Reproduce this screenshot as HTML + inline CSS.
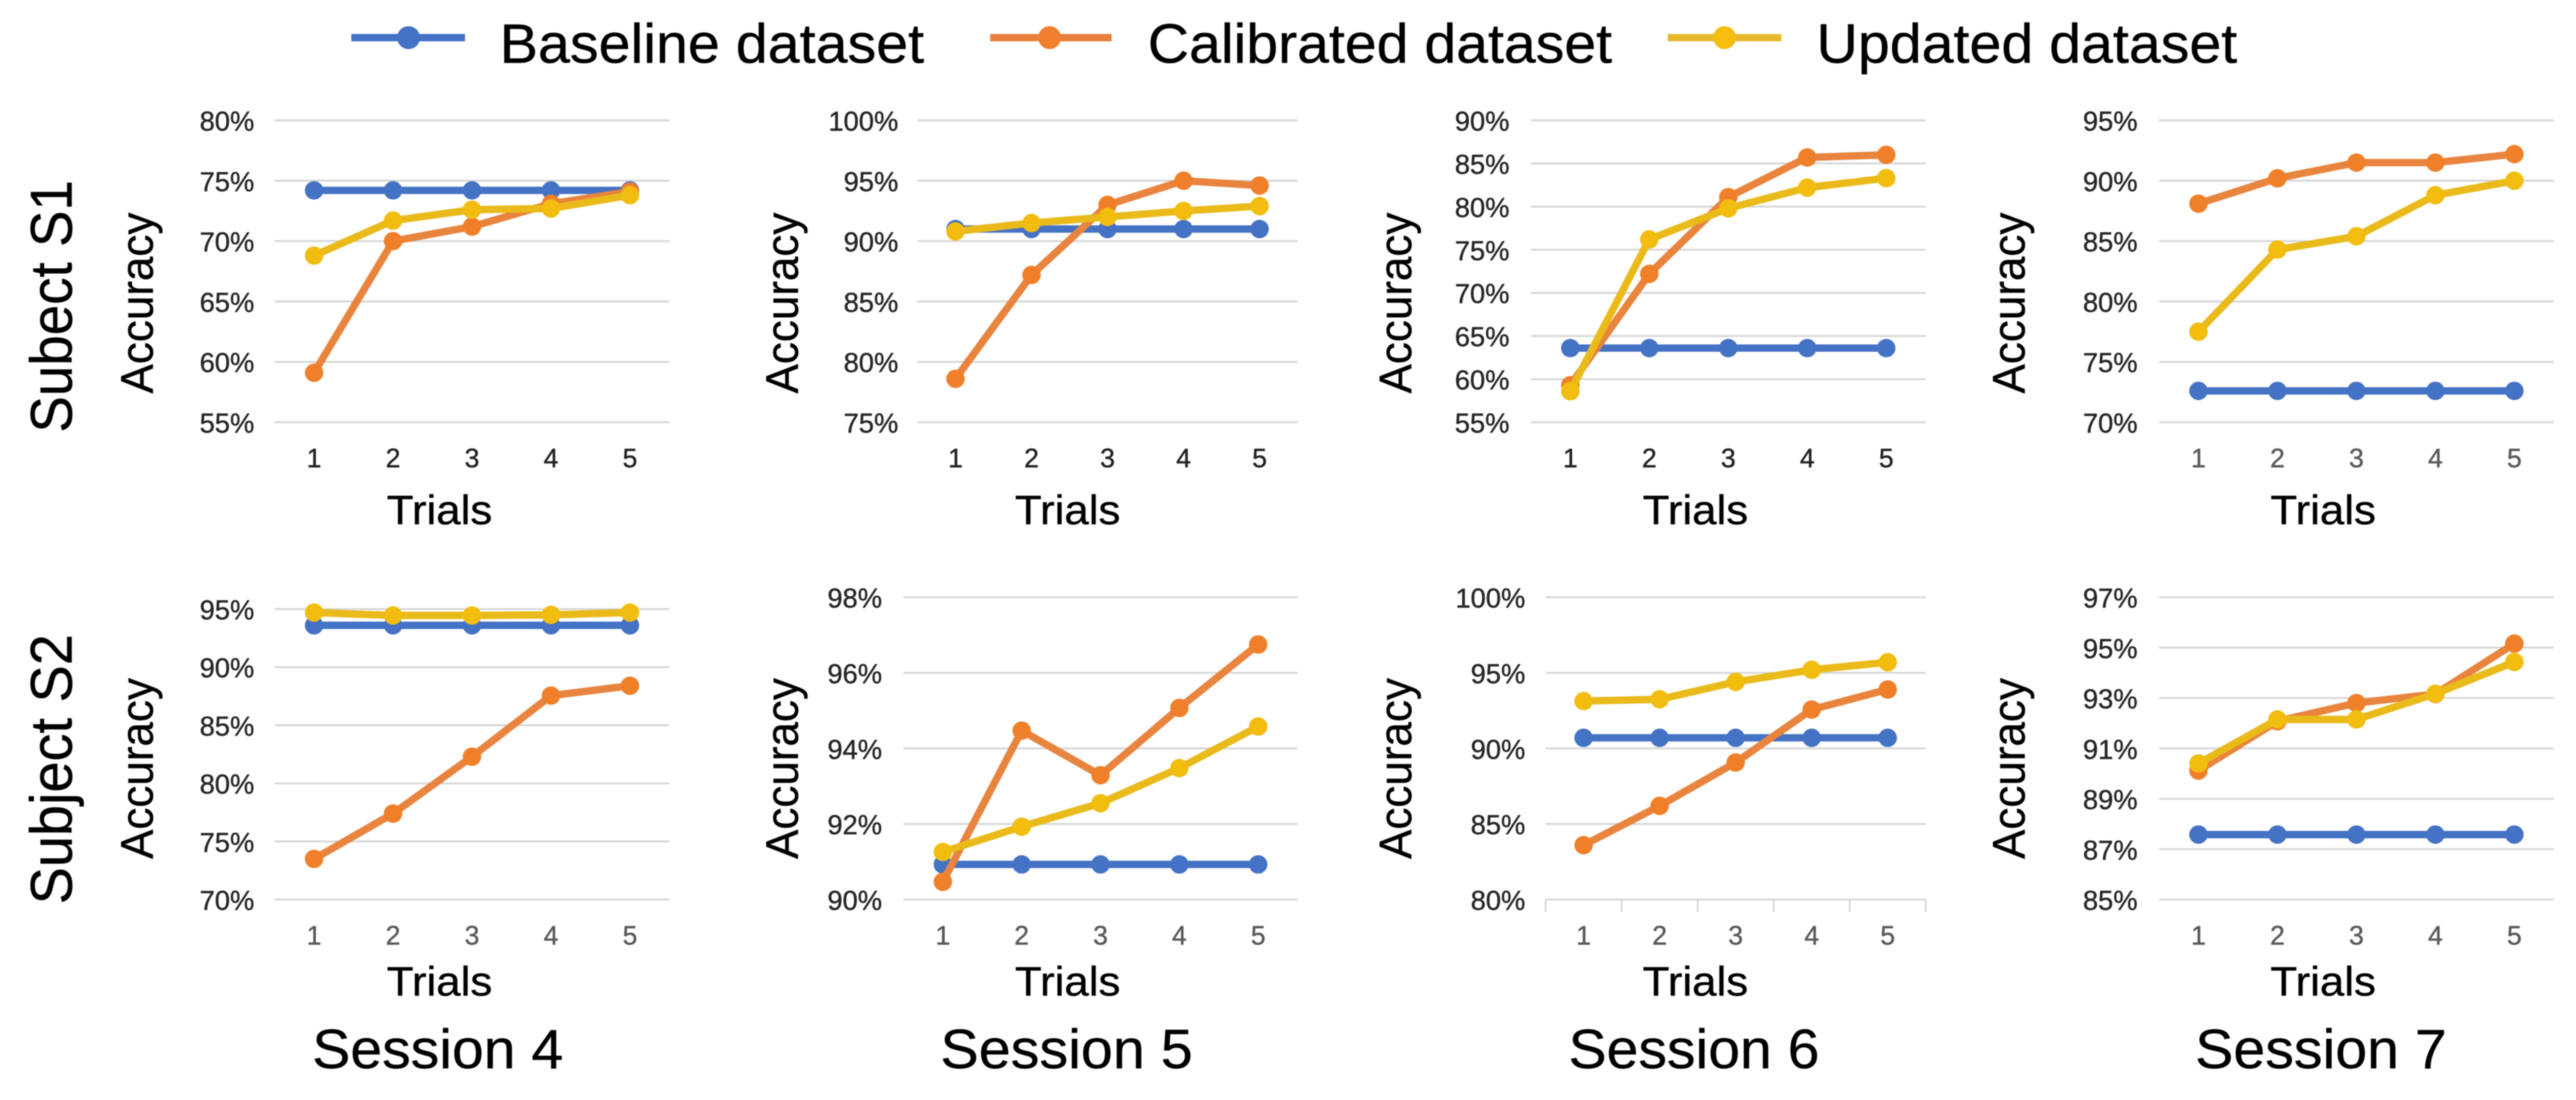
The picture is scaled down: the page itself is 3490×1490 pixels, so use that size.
<!DOCTYPE html>
<html lang="en">
<head>
<meta charset="utf-8">
<title>Accuracy by trial, session and subject</title>
<style>
  html, body { margin: 0; padding: 0; background: #fff; }
  svg { display: block; font-family: "Liberation Sans", Arial, sans-serif; filter: blur(0.7px); }
  text { stroke: currentColor; stroke-width: 0.5px; }
</style>
</head>
<body>
<svg id="chart" xmlns="http://www.w3.org/2000/svg" width="3490" height="1490" viewBox="0 0 3490 1490">
  <rect width="3490" height="1490" fill="#ffffff"/>

  <g>
    <g>
      <line x1="476" y1="51" x2="630" y2="51" stroke="#4472C4" stroke-width="10"/>
      <circle cx="553.5" cy="51" r="15.5" fill="#4472C4"/>
      <text x="677" y="85" font-size="75" textLength="575" lengthAdjust="spacingAndGlyphs" fill="#000" color="#000">Baseline dataset</text>
    </g>
    <g>
      <line x1="1341.5" y1="51" x2="1506" y2="51" stroke="#E8803C" stroke-width="10"/>
      <circle cx="1422" cy="51" r="15.5" fill="#F08030"/>
      <text x="1555" y="85" font-size="75" textLength="629" lengthAdjust="spacingAndGlyphs" fill="#000" color="#000">Calibrated dataset</text>
    </g>
    <g>
      <line x1="2259.5" y1="51" x2="2413.5" y2="51" stroke="#E7B82E" stroke-width="10"/>
      <circle cx="2336.5" cy="51" r="15.5" fill="#F5BE10"/>
      <text x="2461" y="85" font-size="75" textLength="570" lengthAdjust="spacingAndGlyphs" fill="#000" color="#000">Updated dataset</text>
    </g>
  </g>

  <text transform="translate(97,586) rotate(-90)" font-size="80" textLength="342" lengthAdjust="spacingAndGlyphs" fill="#000" color="#000">Subect S1</text>
  <text transform="translate(97,1225) rotate(-90)" font-size="80" textLength="366" lengthAdjust="spacingAndGlyphs" fill="#000" color="#000">Subject S2</text>

  <text x="423" y="1447" font-size="75" textLength="340" lengthAdjust="spacingAndGlyphs" fill="#000" color="#000">Session 4</text>
  <text x="1274" y="1447" font-size="75" textLength="342" lengthAdjust="spacingAndGlyphs" fill="#000" color="#000">Session 5</text>
  <text x="2125" y="1447" font-size="75" textLength="340" lengthAdjust="spacingAndGlyphs" fill="#000" color="#000">Session 6</text>
  <text x="2974" y="1447" font-size="75" textLength="341" lengthAdjust="spacingAndGlyphs" fill="#000" color="#000">Session 7</text>
</svg>

<script>
// ---- Data (percent accuracy) ----
const trials = [1, 2, 3, 4, 5];

const s1Session4Ticks = [55, 60, 65, 70, 75, 80];
const s1Session4Baseline = [74.2, 74.2, 74.2, 74.2, 74.2];
const s1Session4Calibrated = [59.1, 70.0, 71.2, 73.1, 74.1];
const s1Session4Updated = [68.8, 71.7, 72.6, 72.7, 73.8];

const s1Session5Ticks = [75, 80, 85, 90, 95, 100];
const s1Session5Baseline = [91.0, 91.0, 91.0, 91.0, 91.0];
const s1Session5Calibrated = [78.6, 87.2, 93.0, 95.0, 94.6];
const s1Session5Updated = [90.8, 91.5, 92.0, 92.5, 92.9];

const s1Session6Ticks = [55, 60, 65, 70, 75, 80, 85, 90];
const s1Session6Baseline = [63.6, 63.6, 63.6, 63.6, 63.6];
const s1Session6Calibrated = [59.3, 72.2, 81.1, 85.7, 86.0];
const s1Session6Updated = [58.6, 76.2, 79.8, 82.2, 83.3];

const s1Session7Ticks = [70, 75, 80, 85, 90, 95];
const s1Session7Baseline = [72.6, 72.6, 72.6, 72.6, 72.6];
const s1Session7Calibrated = [88.1, 90.2, 91.5, 91.5, 92.2];
const s1Session7Updated = [77.5, 84.3, 85.4, 88.8, 90.0];

const s2Session4Ticks = [70, 75, 80, 85, 90, 95];
const s2Session4Baseline = [93.6, 93.6, 93.6, 93.6, 93.6];
const s2Session4Calibrated = [73.5, 77.4, 82.3, 87.55, 88.4];
const s2Session4Updated = [94.7, 94.45, 94.45, 94.5, 94.7];

const s2Session5Ticks = [90, 92, 94, 96, 98];
const s2Session5Baseline = [90.93, 90.93, 90.93, 90.93, 90.93];
const s2Session5Calibrated = [90.47, 94.47, 93.29, 95.07, 96.75];
const s2Session5Updated = [91.26, 91.93, 92.55, 93.48, 94.58];

const s2Session6Ticks = [80, 85, 90, 95, 100];
const s2Session6Baseline = [90.7, 90.7, 90.7, 90.7, 90.7];
const s2Session6Calibrated = [83.6, 86.2, 89.07, 92.57, 93.9];
const s2Session6Updated = [93.13, 93.25, 94.4, 95.2, 95.7];

const s2Session7Ticks = [85, 87, 89, 91, 93, 95, 97];
const s2Session7Baseline = [87.58, 87.58, 87.58, 87.58, 87.58];
const s2Session7Calibrated = [90.12, 92.08, 92.8, 93.16, 95.16];
const s2Session7Updated = [90.4, 92.15, 92.15, 93.17, 94.43];

// ---- Layout of each panel ----
const panels = [
  { id: 's1-session-4', ticks: s1Session4Ticks, base: s1Session4Baseline, cal: s1Session4Calibrated, upd: s1Session4Updated,
    left: 372, right: 907, top: 163, bottom: 572, labelRight: 344.5, accX: 207, trialsX: 595.5, titleDrop: 138, catColor: '#222222', axis: false },
  { id: 's1-session-5', ticks: s1Session5Ticks, base: s1Session5Baseline, cal: s1Session5Calibrated, upd: s1Session5Updated,
    left: 1243, right: 1758, top: 163, bottom: 572, labelRight: 1217, accX: 1081, trialsX: 1446.5, titleDrop: 138, catColor: '#222222', axis: false },
  { id: 's1-session-6', ticks: s1Session6Ticks, base: s1Session6Baseline, cal: s1Session6Calibrated, upd: s1Session6Updated,
    left: 2074, right: 2609, top: 163, bottom: 572, labelRight: 2045, accX: 1912, trialsX: 2297, titleDrop: 138, catColor: '#222222', axis: false },
  { id: 's1-session-7', ticks: s1Session7Ticks, base: s1Session7Baseline, cal: s1Session7Calibrated, upd: s1Session7Updated,
    left: 2925, right: 3460, top: 163, bottom: 572, labelRight: 2896, accX: 2743, trialsX: 3147.5, titleDrop: 138, catColor: '#595959', axis: false },
  { id: 's2-session-4', ticks: s2Session4Ticks, base: s2Session4Baseline, cal: s2Session4Calibrated, upd: s2Session4Updated,
    left: 372, right: 907, top: 825, bottom: 1218.5, labelRight: 344.5, accX: 207, trialsX: 595.5, titleDrop: 130, catColor: '#595959', axis: false },
  { id: 's2-session-5', ticks: s2Session5Ticks, base: s2Session5Baseline, cal: s2Session5Calibrated, upd: s2Session5Updated,
    left: 1224, right: 1758, top: 809, bottom: 1218.5, labelRight: 1195, accX: 1081, trialsX: 1446.5, titleDrop: 130, catColor: '#595959', axis: false },
  { id: 's2-session-6', ticks: s2Session6Ticks, base: s2Session6Baseline, cal: s2Session6Calibrated, upd: s2Session6Updated,
    left: 2094, right: 2609, top: 809, bottom: 1218.5, labelRight: 2066.5, accX: 1912, trialsX: 2297, titleDrop: 130, catColor: '#595959', axis: true },
  { id: 's2-session-7', ticks: s2Session7Ticks, base: s2Session7Baseline, cal: s2Session7Calibrated, upd: s2Session7Updated,
    left: 2925, right: 3460, top: 809, bottom: 1218.5, labelRight: 2896, accX: 2743, trialsX: 3147.5, titleDrop: 130, catColor: '#595959', axis: false }
];

const NS = 'http://www.w3.org/2000/svg';
const svgRoot = document.getElementById('chart');

function make(parent, tag, attrs, content) {
  const node = document.createElementNS(NS, tag);
  Object.keys(attrs).forEach(function (k) { node.setAttribute(k, attrs[k]); });
  if (content !== undefined) node.textContent = content;
  parent.appendChild(node);
  return node;
}

function drawSeries(group, values, key, lineColor, markerColor, lineWidth, xScale, yScale) {
  const pts = values.map(function (v, i) { return xScale(i) + ',' + yScale(v); }).join(' ');
  const seriesGroup = make(group, 'g', {});
  
  
  const line = make(seriesGroup, 'polyline', { points: pts, fill: 'none', stroke: lineColor, 'stroke-width': lineWidth, 'stroke-linejoin': 'round' });
  
  
  values.forEach(function (v, i) {
    const dot = make(seriesGroup, 'circle', { cx: xScale(i), cy: yScale(v), r: 12.5, fill: markerColor });
    
    
  });
}

panels.forEach(function (p) {
  const g = make(svgRoot, 'g', {});
  
  

  const lo = p.ticks[0];
  const hi = p.ticks[p.ticks.length - 1];
  const band = (p.right - p.left) / trials.length;
  const xScale = function (i) { return p.left + band * (i + 0.5); };
  const yScale = function (v) { return p.bottom - (v - lo) / (hi - lo) * (p.bottom - p.top); };

  p.ticks.forEach(function (t) {
    const y = yScale(t);
    const grid = make(g, 'line', { x1: p.left, x2: p.right, y1: y, y2: y, stroke: '#D6D6D6', 'stroke-width': 2.5 });
    
    
    const lab = make(g, 'text', { x: p.labelRight, y: y + 14, 'font-size': 37, 'text-anchor': 'end', fill: '#262626', color: '#262626' }, t + '%');
    
    
  });

  if (p.axis) {
    for (let i = 0; i <= trials.length; i++) {
      const tick = make(g, 'line', { x1: p.left + band * i, x2: p.left + band * i, y1: p.bottom, y2: p.bottom + 17, stroke: '#D2D2D2', 'stroke-width': 2 });
      
      
    }
  }

  trials.forEach(function (t, i) {
    const lab = make(g, 'text', { x: xScale(i), y: p.bottom + 61, 'font-size': 36, 'text-anchor': 'middle', fill: p.catColor, color: p.catColor }, String(t));
    
    
  });

  const xTitle = make(g, 'text', { x: p.trialsX, y: p.bottom + p.titleDrop, 'font-size': 56, 'text-anchor': 'middle', textLength: 143, lengthAdjust: 'spacingAndGlyphs', fill: '#000000', color: '#000000' }, 'Trials');
  
  

  const accBottom = p.bottom < 600 ? 533 : 1163.5;
  const yTitle = make(g, 'text', { transform: 'translate(' + p.accX + ',' + accBottom + ') rotate(-90)', 'font-size': 62, textLength: 245, lengthAdjust: 'spacingAndGlyphs', fill: '#000000', color: '#000000' }, 'Accuracy');
  
  

  drawSeries(g, p.base, 'baseline', '#4472C4', '#4472C4', 10, xScale, yScale);
  drawSeries(g, p.cal, 'calibrated', '#E8843E', '#F07F2A', 10, xScale, yScale);
  drawSeries(g, p.upd, 'updated', '#E9BA1A', '#F2BD0F', 10, xScale, yScale);
});
</script>
</body>
</html>
